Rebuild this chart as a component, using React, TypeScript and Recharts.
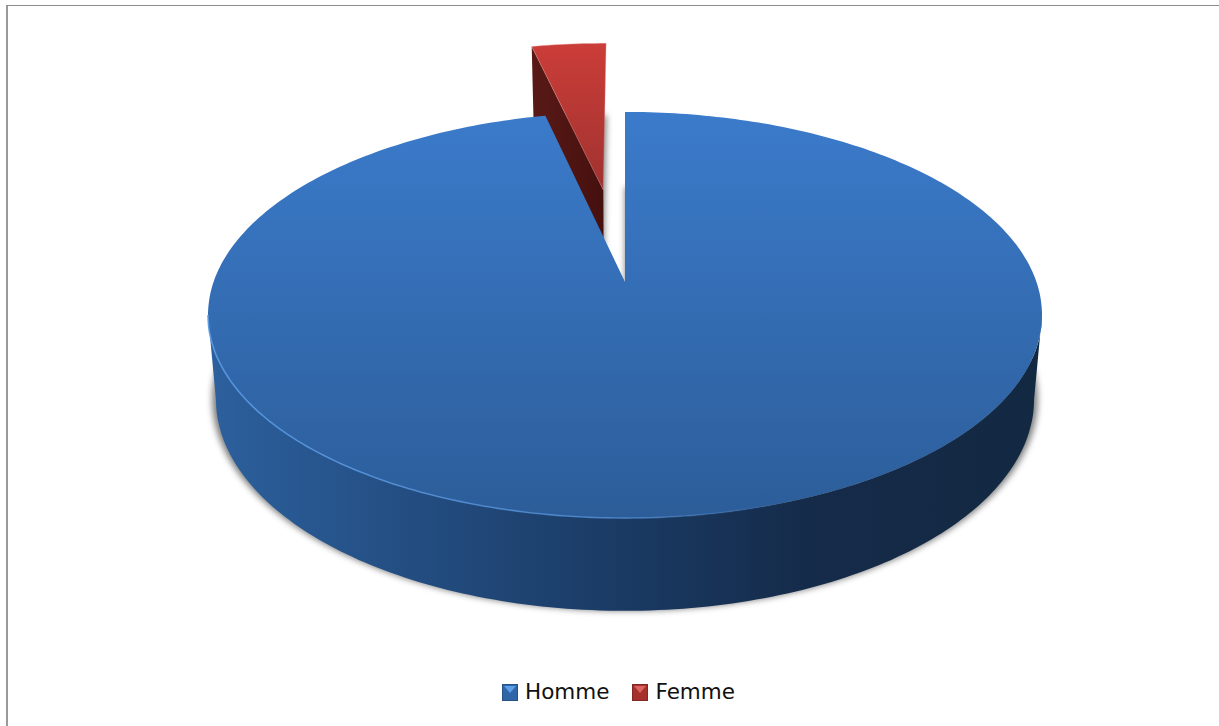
import { PieChart, Pie, Legend } from 'recharts';

const categories = ['Homme', 'Femme'];
const shares = [96.4, 3.6];

// Femme is painted first so the big slice overlaps its inner wall
const pieData = categories.map((name, i) => ({ name, value: shares[i] })).reverse();
const startAngle = 90 + (shares[1] / 100) * 360;

// perspective of the tilted disc
const K = 0.163;
const S = Math.sqrt(1 - K * K);
const TOP = { sx: 1, sy: 0.487, shift: 0 };
const BOTTOM = { sx: 0.981, sy: 0.508, shift: 84 };
const SHADOW = { sx: 0.99, sy: 0.508, shift: 84 };
const EXPLODE = 0.506;
const FRONT = (Math.asin(K) * 180) / Math.PI;

type Plane = typeof TOP;

function project(cx: number, cy: number, R: number, plane: Plane, u: number, v: number) {
  const d = 1 + K * v;
  return [cx + R * plane.sx * ((u * S) / d), cy + plane.shift - R * plane.sy * ((v + K) / d)];
}

function onRim(cx: number, cy: number, R: number, plane: Plane, a: number, u0 = 0, v0 = 0) {
  const t = (a * Math.PI) / 180;
  return project(cx, cy, R, plane, u0 + Math.cos(t), v0 + Math.sin(t));
}

function rimPoints(cx: number, cy: number, R: number, plane: Plane, from: number, to: number, u0 = 0, v0 = 0) {
  const n = Math.max(2, Math.ceil(Math.abs(to - from)));
  const pts: number[][] = [];
  for (let i = 0; i <= n; i++) pts.push(onRim(cx, cy, R, plane, from + ((to - from) * i) / n, u0, v0));
  return pts;
}

const toPath = (pts: number[][], close = true) =>
  pts.map((p, i) => `${i ? 'L' : 'M'}${p[0].toFixed(1)} ${p[1].toFixed(1)}`).join(' ') + (close ? ' Z' : '');

function Defs({ cx, cy, R }: { cx: number; cy: number; R: number }) {
  const left = cx - R;
  const right = cx + R;
  const top = cy - R * TOP.sy;
  const bottom = cy + R * TOP.sy;
  return (
    <defs>
      <filter id="soft" x="-10%" y="-10%" width="120%" height="120%">
        <feGaussianBlur stdDeviation="3" />
      </filter>
      <filter id="softRim" x="-5%" y="-5%" width="110%" height="110%">
        <feGaussianBlur stdDeviation="0.6" />
      </filter>
      <linearGradient id="blueTop" gradientUnits="userSpaceOnUse" x1="0" x2="0" y1={top} y2={bottom}>
        <stop offset="0" stopColor="#3b7bcb" />
        <stop offset="1" stopColor="#2c5d99" />
      </linearGradient>
      <linearGradient id="blueWall" gradientUnits="userSpaceOnUse" x1={left} x2={right} y1="0" y2="0">
        <stop offset="0" stopColor="#2c609d" />
        <stop offset="0.22" stopColor="#244f84" />
        <stop offset="0.5" stopColor="#1a3a63" />
        <stop offset="0.72" stopColor="#152b4a" />
        <stop offset="1" stopColor="#132841" />
      </linearGradient>
      <linearGradient id="blueRim" gradientUnits="userSpaceOnUse" x1={left} x2={right} y1="0" y2="0">
        <stop offset="0" stopColor="#5a9ae5" stopOpacity="0.9" />
        <stop offset="0.5" stopColor="#5a9ae5" stopOpacity="0.6" />
        <stop offset="0.7" stopColor="#5a9ae5" stopOpacity="0" />
      </linearGradient>
      <linearGradient id="redTop" gradientUnits="userSpaceOnUse" x1="0" x2="0" y1={cy - R * TOP.sy * 1.34} y2={cy - R * TOP.sy * 0.62}>
        <stop offset="0" stopColor="#cb3d38" />
        <stop offset="1" stopColor="#a03230" />
      </linearGradient>
      <linearGradient id="redWall" gradientUnits="userSpaceOnUse" x1={cx - R * 0.23} x2={cx - R * 0.05} y1="0" y2="0">
        <stop offset="0" stopColor="#5a1a17" />
        <stop offset="1" stopColor="#45100e" />
      </linearGradient>
    </defs>
  );
}

function Slice3D(props: any) {
  const { cx, cy, outerRadius: R, startAngle: a0, endAngle: a1, name } = props;

  if (name === 'Femme') {
    const mid = (((a0 + a1) / 2) * Math.PI) / 180;
    const u0 = EXPLODE * Math.cos(mid);
    const v0 = EXPLODE * Math.sin(mid);
    const rim = rimPoints(cx, cy, R, TOP, a0, a1, u0, v0);
    const apex = project(cx, cy, R, TOP, u0, v0);
    const floorRim = rimPoints(cx, cy, R, BOTTOM, a0, a1, u0, v0);
    const floorApex = project(cx, cy, R, BOTTOM, u0, v0);
    const wall = [rim[0], apex, floorApex, floorRim[0]];
    return (
      <g>
        <Defs cx={cx} cy={cy} R={R} />
        <path d={toPath([...floorRim, floorApex])} fill="#555" opacity={0.75} filter="url(#soft)" />
        <path d={toPath(wall)} fill="url(#redWall)" />
        <path d={toPath([...rim, apex])} fill="url(#redTop)" stroke="#e8a09c" strokeOpacity={0.45} strokeWidth={0.8} />
      </g>
    );
  }

  const rim = rimPoints(cx, cy, R, TOP, a0, a1);
  const center = project(cx, cy, R, TOP, 0, 0);
  const shadowRim = rimPoints(cx, cy, R, SHADOW, a0, a1);
  const shadowCenter = project(cx, cy, R, SHADOW, 0, 0);
  // outer wall: the part of the rim that faces the viewer
  const wallTop = rimPoints(cx, cy, R, TOP, -FRONT, -180 + FRONT);
  const wallBottom = rimPoints(cx, cy, R, BOTTOM, -180 + FRONT, -FRONT);
  return (
    <g>
      <path d={toPath([...shadowRim, shadowCenter])} fill="#555" opacity={0.75} filter="url(#soft)" />
      <path d={toPath([...wallTop, ...wallBottom])} fill="url(#blueWall)" />
      <path d={toPath([...rim, center])} fill="url(#blueTop)" />
      <path d={toPath(wallTop, false)} fill="none" stroke="url(#blueRim)" strokeWidth={1.6} filter="url(#softRim)" />
    </g>
  );
}

const legendColors: Record<string, string[]> = {
  Homme: ['#2f66a8', '#5a9fe8'],
  Femme: ['#a5302c', '#dc6460'],
};

function BevelKey({ name }: { name: string }) {
  const [base, light] = legendColors[name];
  return (
    <svg width={16} height={17} style={{ display: 'block' }}>
      <rect width={16} height={17} fill={base} />
      <path d="M2 2 L14 2 L8 9 Z" fill={light} />
      <rect x={0.5} y={0.5} width={15} height={16} fill="none" stroke="#000" strokeOpacity={0.2} />
    </svg>
  );
}

function LegendRow() {
  return (
    <div style={{ display: 'flex', alignItems: 'center', fontFamily: '"DejaVu Sans", sans-serif', fontSize: 21.5, color: '#111' }}>
      {categories.map((name, i) => (
        <div key={name} style={{ display: 'flex', alignItems: 'center', marginLeft: i ? 23 : 0 }}>
          <BevelKey name={name} />
          <span style={{ marginLeft: 7, lineHeight: '24px' }}>{name}</span>
        </div>
      ))}
    </div>
  );
}

export default function App() {
  return (
    <div style={{ position: 'absolute', left: 0, top: 0, width: 1219, height: 726, background: '#fff', overflow: 'hidden' }}>
      <div
        style={{
          position: 'absolute',
          left: 6,
          top: 5,
          width: 1213,
          height: 721,
          boxSizing: 'border-box',
          borderTop: '1.5px solid #8c8c8c',
          borderLeft: '2px solid #9a9a9a',
        }}
      />
      <div style={{ position: 'absolute', left: 0, top: 0 }}>
        <PieChart width={1219} height={726} margin={{ top: 0, right: 0, bottom: 0, left: 0 }}>
          <Pie
            data={pieData}
            dataKey="value"
            nameKey="name"
            cx={625}
            cy={315}
            innerRadius={0}
            outerRadius={417}
            startAngle={startAngle}
            endAngle={startAngle - 360}
            stroke="none"
            shape={Slice3D}
            isAnimationActive={false}
          />
          <Legend content={<LegendRow />} wrapperStyle={{ left: 502, top: 680, bottom: 'auto', width: 300 }} />
        </PieChart>
      </div>
    </div>
  );
}
